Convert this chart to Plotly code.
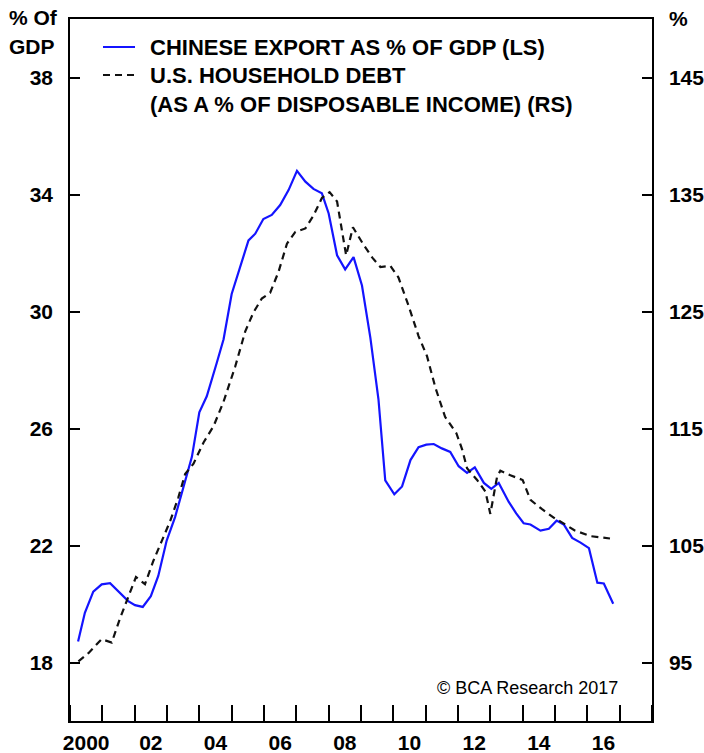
import plotly.graph_objects as go

# Chinese exports as % of GDP (left scale)
cn_years = [2000.25, 2000.46, 2000.72, 2000.98, 2001.24, 2001.50, 2001.80, 2002.01, 2002.25, 2002.50,
            2002.73, 2002.99, 2003.25, 2003.51, 2003.77, 2004.00, 2004.23, 2004.54, 2004.75, 2005.00,
            2005.26, 2005.52, 2005.73, 2005.98, 2006.24, 2006.50, 2006.76, 2007.02, 2007.28, 2007.53,
            2007.79, 2008.00, 2008.26, 2008.51, 2008.77, 2009.03, 2009.29, 2009.54, 2009.75, 2010.03,
            2010.27, 2010.53, 2010.78, 2011.02, 2011.25, 2011.50, 2011.76, 2012.02, 2012.28, 2012.52,
            2012.80, 2013.03, 2013.26, 2013.57, 2013.80, 2014.03, 2014.24, 2014.55, 2014.81, 2015.05,
            2015.27, 2015.53, 2015.79, 2016.05, 2016.31, 2016.51, 2016.80]
cn_values = [18.72, 19.70, 20.42, 20.67, 20.71, 20.44, 20.10, 19.96, 19.90, 20.27,
             20.96, 22.17, 22.97, 24.00, 25.03, 26.55, 27.10, 28.25, 29.05, 30.60,
             31.52, 32.43, 32.66, 33.16, 33.30, 33.64, 34.15, 34.81, 34.44, 34.19,
             34.04, 33.35, 31.92, 31.44, 31.86, 30.89, 29.10, 27.00, 24.23, 23.75,
             24.02, 24.92, 25.36, 25.45, 25.47, 25.32, 25.20, 24.71, 24.48, 24.67,
             24.14, 23.94, 24.14, 23.49, 23.10, 22.76, 22.72, 22.51, 22.57, 22.85,
             22.72, 22.26, 22.10, 21.91, 20.73, 20.70, 20.01]

# U.S. household debt as % of disposable income (right scale)
us_years = [2000.26, 2000.57, 2000.98, 2001.29, 2001.55, 2001.80, 2002.04, 2002.32, 2002.58, 2002.84,
            2003.10, 2003.35, 2003.56, 2003.82, 2004.13, 2004.44, 2004.75, 2005.11, 2005.42, 2005.67,
            2005.93, 2006.19, 2006.45, 2006.71, 2006.97, 2007.28, 2007.53, 2007.79, 2008.03, 2008.26,
            2008.41, 2008.54, 2008.75, 2009.08, 2009.35, 2009.60, 2009.91, 2010.16, 2010.47, 2010.78,
            2011.04, 2011.30, 2011.60, 2011.95, 2012.13, 2012.28, 2012.59, 2012.85, 2013.00, 2013.21,
            2013.31, 2013.62, 2014.00, 2014.24, 2014.60, 2015.00, 2015.20, 2015.60, 2016.10, 2016.70]
us_values = [95.1, 95.8, 97.0, 96.7, 98.8, 100.5, 102.3, 101.7, 103.7, 105.4,
             107.1, 109.1, 111.1, 112.0, 113.8, 115.2, 117.3, 120.3, 123.3, 124.9,
             126.1, 126.6, 128.4, 130.8, 131.8, 132.1, 133.2, 134.7, 135.2, 134.4,
             131.8, 129.8, 132.2, 130.7, 129.6, 128.8, 128.9, 127.9, 125.5, 122.9,
             121.2, 118.5, 116.0, 114.6, 113.2, 111.6, 110.6, 109.6, 107.7, 110.9,
             111.4, 111.0, 110.6, 108.9, 108.1, 107.3, 107.0, 106.3, 105.8, 105.6]

x_label_pos = [2000.5, 2002.5, 2004.5, 2006.5, 2008.5, 2010.5, 2012.5, 2014.5, 2016.5]
x_labels = ["2000", "02", "04", "06", "08", "10", "12", "14", "16"]
left_ticks = [18, 22, 26, 30, 34, 38]
right_ticks = [95, 105, 115, 125, 135, 145]

cn_name = "CHINESE EXPORT AS % OF GDP (LS)"
us_name_lines = ["U.S. HOUSEHOLD DEBT", "(AS A % OF DISPOSABLE INCOME) (RS)"]

FONT = "Liberation Sans, Arial, sans-serif"
BLUE = "#1414ff"
DARK = "#111111"

fig = go.Figure()
fig.add_trace(go.Scatter(
    x=cn_years, y=cn_values, mode="lines", name=cn_name,
    line=dict(color=BLUE, width=2.2), yaxis="y"))
fig.add_trace(go.Scatter(
    x=us_years, y=us_values, mode="lines", name=" ".join(us_name_lines),
    line=dict(color=DARK, width=2.2, dash="7px,5px"), yaxis="y2"))

fig.update_layout(
    width=704, height=753,
    margin=dict(l=70, r=52, t=19, b=32, autoexpand=False),
    paper_bgcolor="white", plot_bgcolor="white",
    font=dict(family=FONT, size=21, color="black", weight="bold"),
    showlegend=False,
    xaxis=dict(range=[2000, 2018], tickvals=x_label_pos, ticktext=x_labels, automargin=False,
               ticks="", showgrid=False, zeroline=False, showline=True, linecolor="black",
               linewidth=1.5, mirror=True, ticklabelstandoff=2,
               minor=dict(tick0=2001, dtick=1, ticks="inside", ticklen=16, tickcolor="black",
                          tickwidth=1.5, showgrid=False)),
    yaxis=dict(range=[16, 40], tickvals=left_ticks, ticks="inside", ticklen=10, tickwidth=1.5,
               tickcolor="black", showgrid=False, zeroline=False, showline=True, automargin=False,
               linecolor="black", linewidth=1.5, ticklabelstandoff=11),
    yaxis2=dict(range=[90, 150], tickvals=right_ticks, ticks="inside", ticklen=10, tickwidth=1.5,
                tickcolor="black", showgrid=False, zeroline=False, showline=True, automargin=False,
                linecolor="black", linewidth=1.5, overlaying="y", side="right",
                ticklabelstandoff=11),
)

# legend drawn by hand (line samples + text)
fig.add_shape(type="line", xref="paper", yref="paper", x0=0.0567, x1=0.1117, y0=0.9601, y1=0.9601,
              line=dict(color=BLUE, width=2.2))
fig.add_shape(type="line", xref="paper", yref="paper", x0=0.0567, x1=0.1117, y0=0.9202, y1=0.9202,
              line=dict(color=DARK, width=2.2, dash="7px,5px"))
legend_font = dict(family=FONT, size=22, color="black", weight="bold")
for txt, yy in [(cn_name, 0.9601), (us_name_lines[0], 0.9202), (us_name_lines[1], 0.8789)]:
    fig.add_annotation(text=txt, xref="paper", yref="paper", x=0.134, y=yy, xanchor="left",
                       yanchor="middle", showarrow=False, font=legend_font)

fig.add_annotation(text="% Of", xref="paper", yref="paper", x=-0.0172, y=1.0021, xanchor="right",
                   yanchor="middle", showarrow=False)
fig.add_annotation(text="GDP", xref="paper", yref="paper", x=-0.0223, y=0.9615, xanchor="right",
                   yanchor="middle", showarrow=False)
fig.add_annotation(text="%", xref="paper", yref="paper", x=1.0258, y=1.0014, xanchor="left",
                   yanchor="middle", showarrow=False)
fig.add_annotation(text="© BCA Research 2017", xref="paper", yref="paper", x=0.945, y=0.0477,
                   xanchor="right", yanchor="middle", showarrow=False,
                   font=dict(family=FONT, size=18, color="black", weight="normal"))

fig.write_html("out.html", config={"displayModeBar": False},
               post_script="document.body.style.margin='0';document.body.style.overflow='hidden';")
